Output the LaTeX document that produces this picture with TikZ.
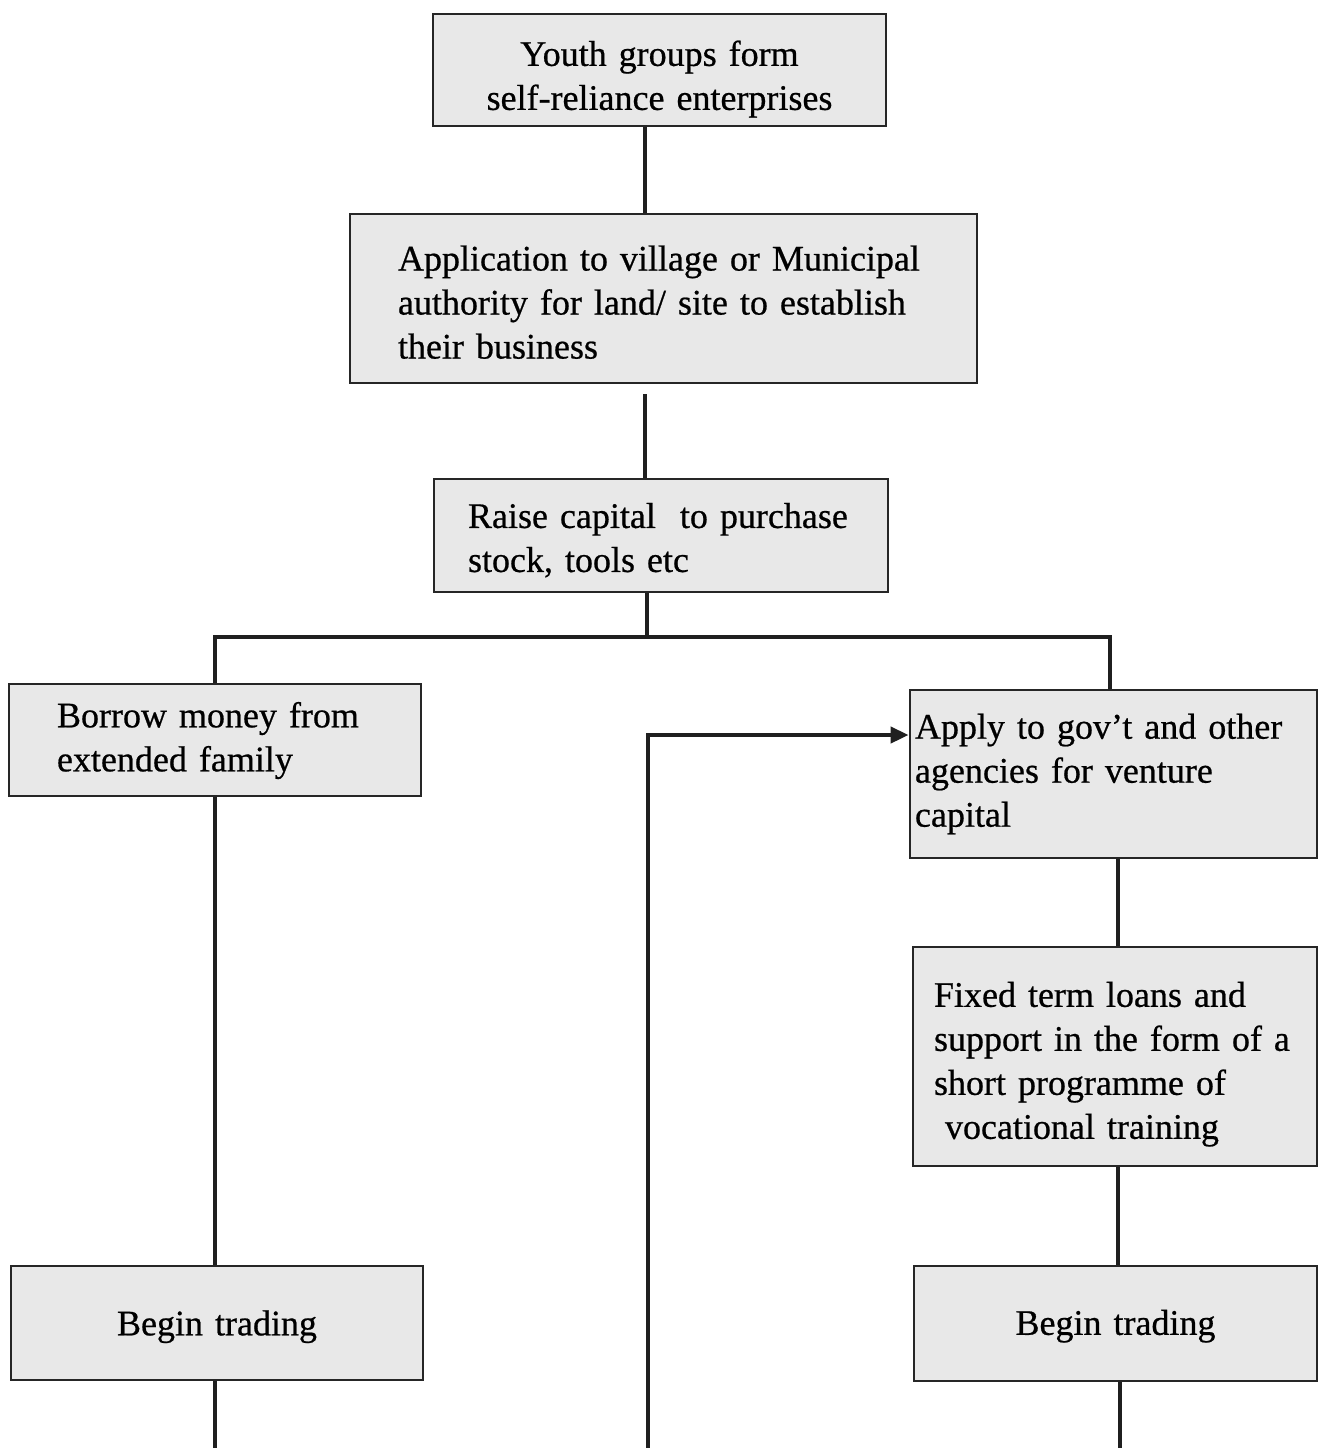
\documentclass[tikz,border=0pt]{standalone}
\usepackage{fontspec}
\setmainfont{Liberation Serif}[FakeBold=0.6]
\usetikzlibrary{arrows.meta}
\begin{document}
\begin{tikzpicture}[x=0.5pt,y=-0.5pt,
  box/.style={draw=black!85, line width=1.4pt, fill=black!9, inner ysep=0pt,
    font=\fontsize{18}{22}\selectfont},
  drop/.style={execute at begin node={\rule{0pt}{#1}}},
  link/.style={line width=2pt, draw=black!88},
  tip/.style={-{Triangle[length=9pt,width=8pt]}}]
\useasboundingbox (0,0) rectangle (1319,1448);

\node[box, drop=21.7pt, minimum width=226.5pt, minimum height=56pt, inner xsep=3.25pt, text width=220pt, align=center] (b1) at (659.5,70)
  {Youth groups form\\ self-reliance enterprises};
\node[box, drop=16.2pt, minimum width=313.5pt, minimum height=84.5pt, inner xsep=24pt, text width=265.5pt, align=left] (b2) at (663.5,298.5)
  {Application to village or Municipal\\ authority for land/ site to establish\\ their business};
\node[box, drop=17.2pt, minimum width=227pt, minimum height=56.5pt, inner xsep=17pt, text width=193pt, align=left] (b3) at (661,535.5)
  {Raise capital\ \ to purchase\\ stock, tools etc};
\node[box, drop=13.2pt, minimum width=206pt, minimum height=56pt, inner xsep=24pt, text width=158pt, align=left] (b4) at (215,740)
  {Borrow money from\\ extended family};
\node[box, minimum width=203.5pt, minimum height=84pt, inner xsep=2.5pt, text width=198.5pt, align=left] (b5) at (1113.5,774)
  {Apply to gov’t and other\\ agencies for venture\\ capital};
\node[box, drop=20.2pt, minimum width=202pt, minimum height=109.5pt, inner xsep=8pt, text width=186pt, align=left] (b7) at (1115,1056.5)
  {\hspace*{2.5pt}Fixed term loans and\\ \hspace*{2.5pt}support in the form of a\\ \hspace*{2.5pt}short programme of\\ \hspace*{8pt}vocational training};
\node[box, drop=16.2pt, minimum width=206pt, minimum height=57pt, inner xsep=3pt, text width=200pt, align=center] (b6) at (217,1323) {Begin trading};
\node[box, drop=15.2pt, minimum width=201.5pt, minimum height=57.5pt, inner xsep=3pt, text width=195.5pt, align=center] (b8) at (1115.5,1323.5) {Begin trading};

\coordinate (j) at (647,637);
\coordinate (e1) at (215,1448);
\coordinate (e2) at (648,1448);
\coordinate (e3) at (1120,1448);

\draw[link] (b1.south -| 645,0) -- (b2.north -| 645,0);
\draw[link] ([yshift=-5pt]b2.south -| 645,0) -- (b3.north -| 645,0);
\draw[link] (b3.south -| j) -- (j);
\draw[link] (b4.north) |- (j) -| (b5.north -| 1110,0);
\draw[link] (b4.south) -- (b4.south |- b6.north);
\draw[link] (b6.south -| e1) -- (e1);
\draw[link, tip] (e2) |- (b5.west |- 0,735);
\draw[link] (b5.south -| 1118,0) -- (b7.north -| 1118,0);
\draw[link] (b7.south -| 1118,0) -- (b8.north -| 1118,0);
\draw[link] (b8.south -| e3) -- (e3);
\end{tikzpicture}
\end{document}
